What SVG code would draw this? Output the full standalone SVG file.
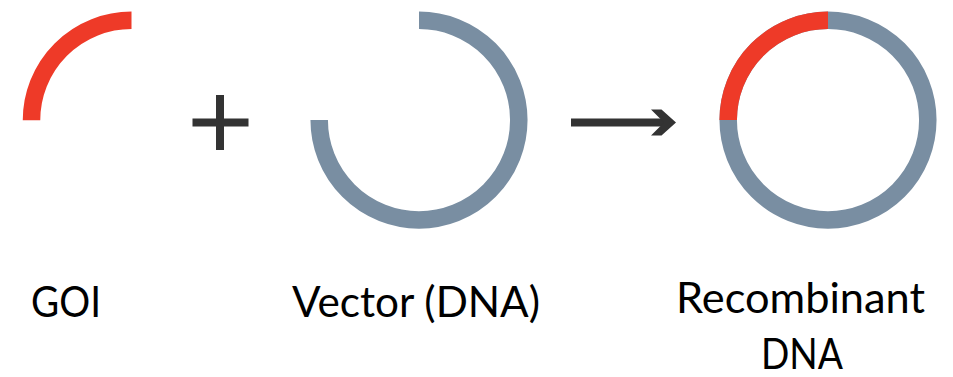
<svg xmlns="http://www.w3.org/2000/svg" width="953" height="377" viewBox="0 0 953 377">
  <style>
    .arc { fill: none; stroke-width: 17.5; stroke-linecap: butt; }
    .red { stroke: #EE3A28; }
    .gray { stroke: #798EA2; }
    .sym { fill: #333333; }
    .lbl { font-family: Lato, "Liberation Sans", sans-serif; font-size: 42px; fill: #000000; }
  </style>
  <rect width="953" height="377" fill="#ffffff"/>
  <g id="goi">
    <path class="arc red" d="M 31.5 120.3 A 100 100 0 0 1 131.5 20.3"/>
    <text class="lbl" x="31" y="317" textLength="70" lengthAdjust="spacingAndGlyphs">GOI</text>
  </g>
  <g id="plus">
    <rect class="sym" x="192.5" y="118.5" width="56" height="8"/>
    <rect class="sym" x="216" y="95" width="8" height="55"/>
  </g>
  <g id="vector">
    <path class="arc gray" d="M 419 20.3 A 99.8 99.8 0 1 1 319.2 120.1"/>
    <text class="lbl" x="292" y="317" textLength="248" lengthAdjust="spacingAndGlyphs">Vector (DNA)</text>
  </g>
  <g id="connectors">
    <rect class="sym" x="571" y="118.5" width="94" height="8"/>
    <polygon class="sym" points="651,109.5 661.5,109.5 676,122.5 661.5,135.5 651,135.5 664,122.5"/>
  </g>
  <g id="recombinant">
    <circle class="arc gray" cx="828" cy="120.1" r="99.8"/>
    <path class="arc red" d="M 728.2 120.1 A 99.8 99.8 0 0 1 828 20.3"/>
    <text class="lbl" x="676" y="313" textLength="249" lengthAdjust="spacingAndGlyphs">Recombinant</text>
    <text class="lbl" x="761" y="369" textLength="82" lengthAdjust="spacingAndGlyphs">DNA</text>
  </g>
</svg>
